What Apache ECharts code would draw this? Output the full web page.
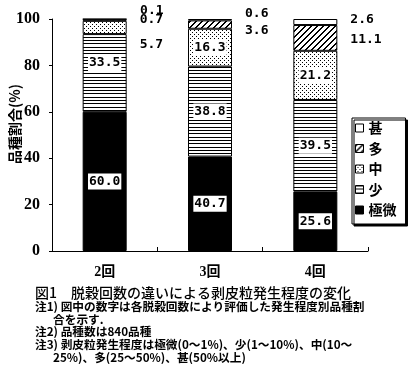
<!DOCTYPE html>
<html>
<head>
<meta charset="utf-8">
<script src="https://cdn.jsdelivr.net/npm/echarts@6/dist/echarts.min.js"></script>
<style>
html,body{margin:0;padding:0;background:#fff;}
#c{width:413px;height:371px;}
</style>
</head>
<body>
<div id="c"></div>
<script>
// ---- data ----
const categories = ['2回', '3回', '4回'];
const seriesNames = ['極微', '少', '中', '多', '甚'];
const kyokubi = [60.0, 40.7, 25.6];
const sho = [33.5, 38.8, 39.5];
const chu = [5.7, 16.3, 21.2];
const ta = [0.7, 3.6, 11.1];
const jin = [0.1, 0.6, 2.6];
const yTicks = [0, 20, 40, 60, 80, 100];
const yAxisName = '品種割合(%)';
const titleText = '図1　脱穀回数の違いによる剥皮粒発生程度の変化';
const noteLines = [
  '注1) 図中の数字は各脱穀回数により評価した発生程度別品種割',
  '合を示す.',
  '注2) 品種数は840品種',
  '注3) 剥皮粒発生程度は極微(0～1%)、少(1～10%)、中(10～',
  '25%)、多(25～50%)、甚(50%以上)'
];

// ---- patterns ----
function makePattern(w, h, fn) {
  const c = document.createElement('canvas');
  c.width = w; c.height = h;
  const ctx = c.getContext('2d');
  ctx.fillStyle = '#fff';
  ctx.fillRect(0, 0, w, h);
  ctx.fillStyle = '#000';
  for (let y = 0; y < h; y++) for (let x = 0; x < w; x++) if (fn(x, y)) ctx.fillRect(x, y, 1, 1);
  return { image: c, repeat: 'repeat' };
}
const patHLines = makePattern(1, 10, (x, y) => y === 0 || y === 3 || y === 7);
const patDots = makePattern(4, 4, (x, y) => (x === 0 && y === 0) || (x === 2 && y === 2));
const patDiag = makePattern(6, 6, (x, y) => ((x + y) % 6) < 2);

const fills = ['#000', patHLines, patDots, patDiag, '#fff'];
const values = [kyokubi, sho, chu, ta, jin];

// label layout: 'in' = centred in segment on white box, 'out' = to the right of bar
const labelMode = [
  ['in', 'in', 'in'],
  ['in', 'in', 'in'],
  ['out', 'in', 'in'],
  ['out', 'out', 'out'],
  ['out', 'out', 'out']
];
const labelShift = [
  [0, 0, 0],
  [-10, 0, 0],
  [17, 0, 0],
  [0, 6, 2],
  [-8, -6, -2]
];

const numFont = "'DejaVu Sans Mono', monospace";
const jpFont = "'Noto Sans CJK JP', sans-serif";
const noteFont = "bold 11.7px 'Noto Sans CJK JP'";

const series = seriesNames.map((name, si) => ({
  name: name,
  type: 'bar',
  stack: 'total',
  barWidth: 44,
  itemStyle: { color: fills[si], borderColor: '#000', borderWidth: 1 },
  emphasis: { disabled: true },
  data: values[si].map((v, ci) => {
    const inside = labelMode[si][ci] === 'in';
    return {
      value: v,
      label: inside ? {
        show: true,
        position: 'inside',
        offset: [0, labelShift[si][ci]],
        formatter: (p) => p.value.toFixed(1),
        color: '#000',
        backgroundColor: '#fff',
        padding: [2, 1, 1, 1],
        fontFamily: numFont,
        fontWeight: 'bold',
        fontSize: 13
      } : {
        show: true,
        position: 'right',
        distance: 13,
        offset: [0, labelShift[si][ci]],
        formatter: (p) => p.value.toFixed(1),
        color: '#000',
        fontFamily: numFont,
        fontWeight: 'bold',
        fontSize: 13
      }
    };
  })
}));

const chart = echarts.init(document.getElementById('c'), null, { renderer: 'canvas' });
chart.setOption({
  animation: false,
  backgroundColor: '#fff',
  grid: { left: 52, right: 45, top: 19, bottom: 120 },
  legend: {
    data: seriesNames.slice().reverse().map(n => ({ name: n, icon: 'rect' })),
    orient: 'vertical',
    left: 352,
    top: 118,
    itemWidth: 8,
    itemHeight: 8,
    itemGap: 6.5,
    padding: [3, 9, 7, 3],
    backgroundColor: '#fff',
    borderColor: '#000',
    borderWidth: 1,
    shadowColor: '#000',
    shadowOffsetX: 2,
    shadowOffsetY: 2,
    shadowBlur: 0,
    selectedMode: false,
    itemStyle: { borderColor: '#000', borderWidth: 1 },
    textStyle: { fontFamily: jpFont, fontWeight: 'bold', fontSize: 14, color: '#000', lineHeight: 14 }
  },
  xAxis: {
    type: 'category',
    data: categories,
    axisLine: { lineStyle: { color: '#000', width: 1 } },
    axisTick: { show: true, inside: true, length: 4, alignWithLabel: false, lineStyle: { color: '#000' } },
    axisLabel: { margin: 14, color: '#000', fontFamily: "'Liberation Serif', 'Noto Sans CJK JP', serif", fontWeight: 'bold', fontSize: 14 },
    splitLine: { show: false }
  },
  yAxis: {
    type: 'value',
    min: yTicks[0],
    max: yTicks[yTicks.length - 1],
    interval: yTicks[1] - yTicks[0],
    axisLine: { show: true, lineStyle: { color: '#000', width: 1 } },
    axisTick: { show: true, inside: false, length: 3, lineStyle: { color: '#000' } },
    axisLabel: { margin: 12, color: '#000', fontFamily: "'Liberation Serif', serif", fontWeight: 'bold', fontSize: 16 },
    splitLine: { show: false }
  },
  graphic: [
    {
      type: 'text', x: 15, y: 124, rotation: Math.PI / 2,
      style: { text: yAxisName, font: "bold 14px 'Noto Sans CJK JP'", fill: '#000', align: 'center', verticalAlign: 'middle' }
    },
    {
      type: 'text', x: 35, y: 293,
      style: { text: titleText, font: "500 14px 'Noto Sans CJK JP'", fill: '#000', align: 'left', verticalAlign: 'middle' }
    },
    { type: 'text', x: 35, y: 307, style: { text: noteLines[0], font: noteFont, fill: '#000', verticalAlign: 'middle' } },
    { type: 'text', x: 53, y: 320, style: { text: noteLines[1], font: noteFont, fill: '#000', verticalAlign: 'middle' } },
    { type: 'text', x: 35, y: 332, style: { text: noteLines[2], font: noteFont, fill: '#000', verticalAlign: 'middle' } },
    { type: 'text', x: 35, y: 345, style: { text: noteLines[3], font: noteFont, fill: '#000', verticalAlign: 'middle' } },
    { type: 'text', x: 53, y: 358, style: { text: noteLines[4], font: noteFont, fill: '#000', verticalAlign: 'middle' } }
  ],
  series: series
});
</script>
</body>
</html>
